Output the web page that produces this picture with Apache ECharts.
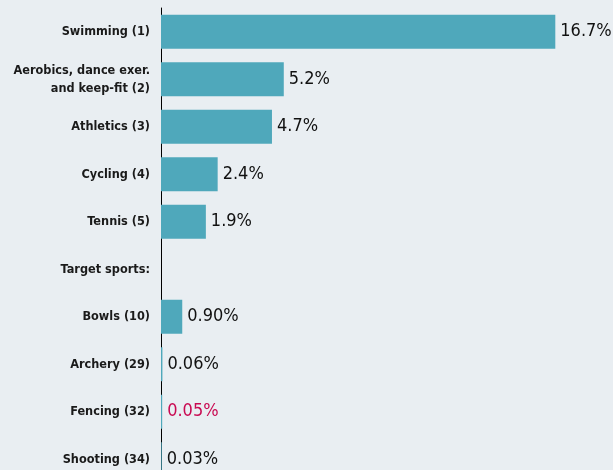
<!DOCTYPE html>
<html>
<head>
<meta charset="utf-8">
<script src="https://cdn.jsdelivr.net/npm/echarts@6/dist/echarts.min.js"></script>
<style>
  html, body { margin: 0; padding: 0; background: #e9eef2; }
  #chartBar { width: 613px; height: 470px; }
</style>
</head>
<body>
<div id="chartBar"></div>
<script>
var categories = ['Swimming (1)', 'Aerobics, dance exer.\nand keep-fit (2)', 'Athletics (3)', 'Cycling (4)',
    'Tennis (5)', 'Target sports:', 'Bowls (10)', 'Archery (29)', 'Fencing (32)', 'Shooting (34)'];
var shares = [16.7, 5.2, 4.7, 2.4, 1.9, null, 0.90, 0.06, 0.05, 0.03];
var shareLabels = ['16.7%', '5.2%', '4.7%', '2.4%', '1.9%', '', '0.90%', '0.06%', '0.05%', '0.03%'];
var highlight = 'Fencing (32)';

var myChart = echarts.init(document.getElementById('chartBar'));
var fontStack = "'DejaVu Sans Condensed', 'Roboto', sans-serif";

var bar_data = [];
for (var i = 0; i < categories.length; i++) {
    bar_data.push({
        value: shares[i],
        label: {
            formatter: shareLabels[i],
            color: categories[i] == highlight ? '#c90a52' : '#111'
        }
    });
}

var option = {
    backgroundColor: '#e9eef2',
    grid: {
        top: 8,
        height: 475,
        left: 161,
        right: 27,
        outerBoundsMode: 'none'
    },
    xAxis: {
        type: 'value',
        min: 0,
        max: 18,
        show: false
    },
    yAxis: {
        type: 'category',
        inverse: true,
        data: categories,
        axisLine: {
            lineStyle: { color: '#000', width: 1 }
        },
        axisTick: { show: false },
        axisLabel: {
            margin: 11,
            color: '#1a1a1a',
            fontFamily: fontStack,
            fontWeight: 'bold',
            fontSize: 12.6,
            lineHeight: 18,
            align: 'right'
        }
    },
    series: [{
        name: 'share',
        type: 'bar',
        barWidth: 34,
        itemStyle: { color: '#4fa8bb' },
        label: {
            show: true,
            position: 'right',
            distance: 5,
            fontFamily: fontStack,
            fontSize: 18
        },
        data: bar_data
    }]
};
myChart.setOption(option);
</script>
</body>
</html>
